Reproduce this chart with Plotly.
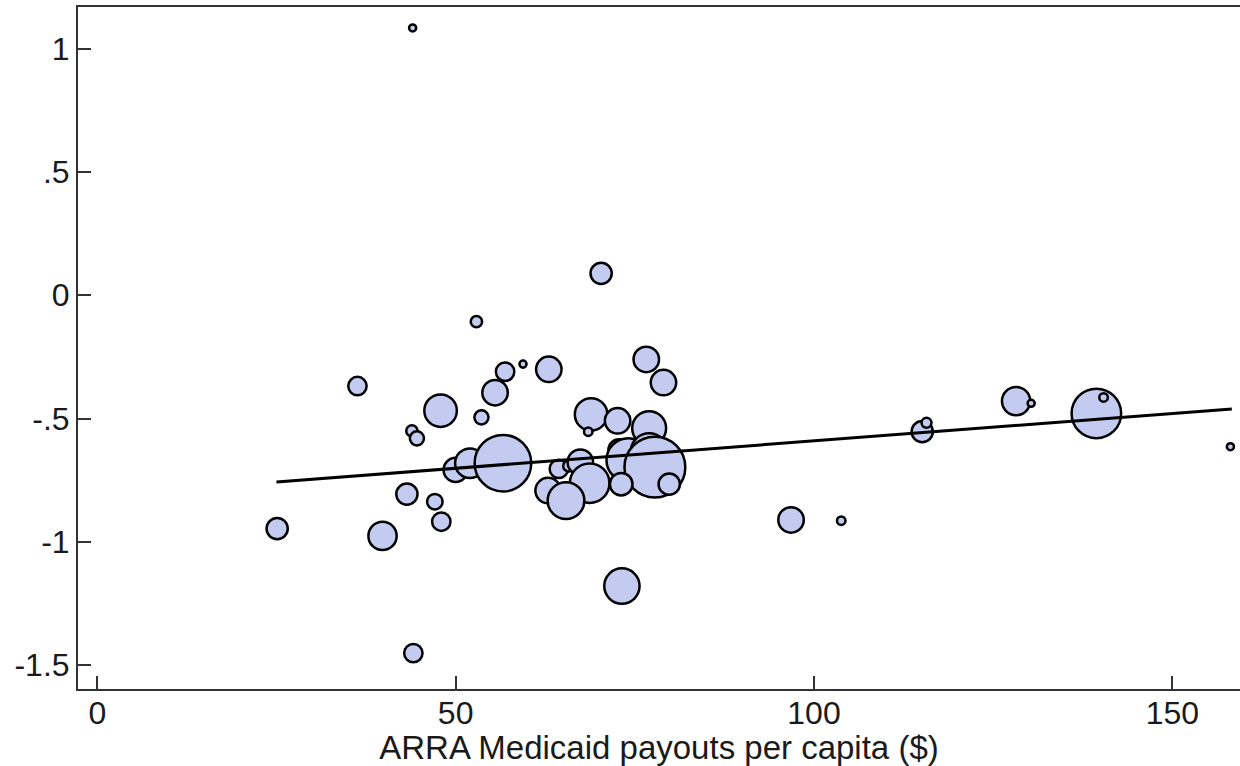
import plotly.graph_objects as go

# ARRA Medicaid payouts per capita ($)
payout = [44.0, 70.3, 52.9, 59.4, 56.9, 63.0, 36.3, 55.5, 76.6, 79.0,
          47.9, 53.6, 43.9, 44.6, 68.9, 68.5, 72.6, 77.0, 50.0, 52.0,
          56.6, 64.4, 65.8, 67.4, 68.7, 62.9, 65.4, 72.8, 74.1, 77.0,
          77.8, 73.1, 79.8, 73.2, 43.2, 47.1, 48.0, 25.1, 39.8, 44.1,
          96.8, 103.8, 115.1, 115.7, 128.2, 130.3, 139.4, 140.4, 158.1]
# outcome (vertical axis)
outcome = [1.084, 0.089, -0.107, -0.279, -0.310, -0.300, -0.368, -0.395, -0.260, -0.354,
           -0.468, -0.495, -0.550, -0.580, -0.483, -0.553, -0.509, -0.539, -0.708, -0.681,
           -0.681, -0.704, -0.692, -0.677, -0.762, -0.792, -0.833, -0.627, -0.668, -0.634,
           -0.697, -0.766, -0.766, -1.179, -0.806, -0.837, -0.918, -0.946, -0.976, -1.451,
           -0.911, -0.914, -0.553, -0.517, -0.429, -0.438, -0.479, -0.414, -0.614]
# bubble weights (population, millions, estimated)
weight = [0.46, 4.11, 1.17, 0.46, 3.09, 5.92, 3.09, 5.92, 5.92, 5.92,
          9.66, 1.83, 1.17, 1.83, 9.66, 0.66, 5.92, 10.5, 5.28, 8.05,
          29.2, 3.09, 1.17, 5.92, 14.3, 5.92, 12.3, 4.11, 17.5, 12.3,
          33.8, 4.67, 4.11, 11.4, 4.11, 2.21, 3.09, 4.11, 7.30, 3.09,
          5.92, 0.66, 4.11, 0.89, 7.30, 0.46, 22.4, 0.66, 0.46]

# fitted line endpoints
fit_x = [25.0, 158.3]
fit_y = [-0.757, -0.461]

x_ticks = [0, 50, 100, 150]
y_ticks = [1, 0.5, 0, -0.5, -1, -1.5]
y_ticklabels = ["1", ".5", "0", "-.5", "-1", "-1.5"]

FONT = "Liberation Sans, Arial, sans-serif"
AXIS_COLOR = "#333333"

fig = go.Figure()
fig.add_trace(go.Scatter(
    x=payout, y=outcome, mode="markers",
    marker=dict(size=weight, sizemode="area", sizeref=1 / 7.4 ** 2,
                color="rgb(195,203,240)", opacity=1,
                line=dict(color="black", width=2.5)),
    showlegend=False, hoverinfo="x+y",
))
fig.add_trace(go.Scatter(
    x=fit_x, y=fit_y, mode="lines",
    line=dict(color="black", width=3),
    showlegend=False, hoverinfo="skip",
))

fig.update_layout(
    width=1240, height=766,
    margin=dict(l=78, r=0, t=7, b=77),
    paper_bgcolor="white", plot_bgcolor="white",
    font=dict(family=FONT, size=32, color="#1a1a1a"),
    xaxis=dict(
        range=[-2.69, 159.44], automargin=False,
        tickvals=x_ticks, ticktext=[str(v) for v in x_ticks],
        ticks="inside", ticklen=13, tickwidth=2, tickcolor=AXIS_COLOR,
        ticklabelstandoff=-5,
        showline=True, linecolor=AXIS_COLOR, linewidth=2, mirror=True,
        showgrid=False, zeroline=False,
        title=dict(text="ARRA Medicaid payouts per capita ($)",
                   font=dict(size=33), standoff=0),
    ),
    yaxis=dict(
        range=[-1.5965, 1.169], automargin=False,
        tickvals=y_ticks, ticktext=y_ticklabels,
        ticks="inside", ticklen=13, tickwidth=2, tickcolor=AXIS_COLOR,
        showline=True, linecolor=AXIS_COLOR, linewidth=2, mirror=False,
        showgrid=False, zeroline=False,
    ),
)

fig.write_html(
    "out.html",
    config={"displayModeBar": False},
    post_script="document.body.style.margin='0';document.body.style.overflow='hidden';",
)
